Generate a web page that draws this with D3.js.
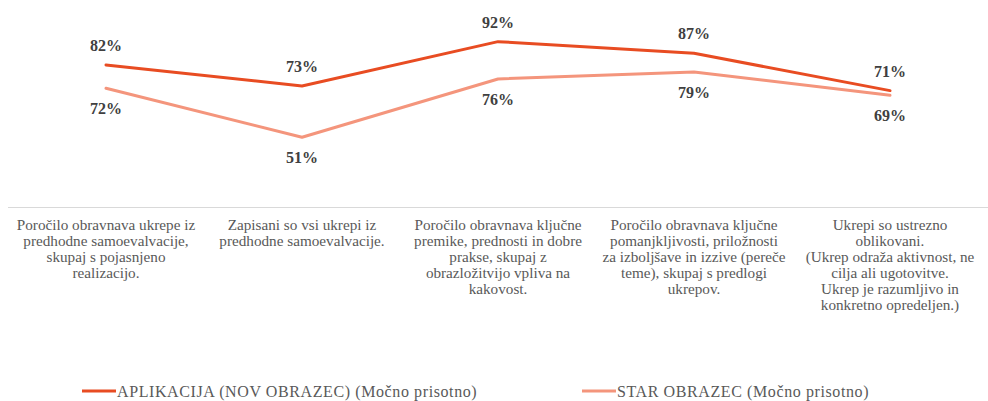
<!DOCTYPE html>
<html>
<head>
<meta charset="utf-8">
<script src="https://cdn.jsdelivr.net/npm/d3@7/dist/d3.min.js"></script>
<style>
  body { margin: 0; background: #fff; }
</style>
</head>
<body>
<svg id="chart" width="988" height="401"></svg>
<script>
const categories = [
  ["Poročilo obravnava ukrepe iz", "predhodne samoevalvacije,", "skupaj s pojasnjeno", "realizacijo."],
  ["Zapisani so vsi ukrepi iz", "predhodne samoevalvacije."],
  ["Poročilo obravnava ključne", "premike, prednosti in dobre", "prakse, skupaj z", "obrazložitvijo vpliva na", "kakovost."],
  ["Poročilo obravnava ključne", "pomanjkljivosti, priložnosti", "za izboljšave in izzive (pereče", "teme), skupaj s predlogi", "ukrepov."],
  ["Ukrepi so ustrezno", "oblikovani.", "(Ukrep odraža aktivnost, ne", "cilja ali ugotovitve.", "Ukrep je razumljivo in", "konkretno opredeljen.)"]
];
const seriesNames = ["APLIKACIJA (NOV OBRAZEC) (Močno prisotno)", "STAR OBRAZEC (Močno prisotno)"];
const seriesNew = [82, 73, 92, 87, 71];
const seriesOld = [72, 51, 76, 79, 69];
const colors = ["#E84C22", "#F4957C"];
const FONT = "'Liberation Serif', 'DejaVu Serif', serif";

const svg = d3.select("#chart");
const x = d3.scaleBand().domain(d3.range(categories.length)).range([8, 988]);
const y = d3.scaleLinear().domain([20, 100]).range([209.5, 23]);
const cx = i => x(i) + x.bandwidth() / 2;

svg.append("line").attr("x1", 8).attr("x2", 988).attr("y1", 207.5).attr("y2", 207.5)
  .attr("stroke", "#d9d9d9").attr("stroke-width", 1);

categories.forEach((lines, i) => {
  const t = svg.append("text").attr("text-anchor", "middle").attr("fill", "#595959")
    .style("font-family", FONT).attr("font-size", 15.2);
  lines.forEach((ln, j) => {
    t.append("tspan").attr("x", cx(i)).attr("y", 230 + j * 16).text(ln);
  });
});

const line = d3.line().x((d, i) => cx(i)).y(d => y(d));
const series = [seriesNew, seriesOld];
[1, 0].forEach(s => {
  svg.append("path").datum(series[s]).attr("d", line).attr("fill", "none")
    .attr("stroke", colors[s]).attr("stroke-width", 3).attr("stroke-linejoin", "round")
    .attr("stroke-linecap", "round");
});

series.forEach((vals, s) => {
  vals.forEach((v, i) => {
    const above = vals[i] >= series[1 - s][i];
    svg.append("text").attr("x", cx(i)).attr("y", above ? y(v) - 14 : y(v) + 26)
      .attr("text-anchor", "middle").style("font-family", FONT).attr("font-size", 16)
      .attr("font-weight", "bold").attr("fill", "#404040").text(v + "%");
  });
});

const legendX = [82, 582];
seriesNames.forEach((n, s) => {
  svg.append("line").attr("x1", legendX[s]).attr("x2", legendX[s] + 34)
    .attr("y1", 391).attr("y2", 391).attr("stroke", colors[s]).attr("stroke-width", 3);
  svg.append("text").attr("x", legendX[s] + 35).attr("y", 397).style("font-family", FONT)
    .attr("font-size", 16).attr("letter-spacing", 0.6).attr("fill", "#595959").text(n);
});
</script>
</body>
</html>
